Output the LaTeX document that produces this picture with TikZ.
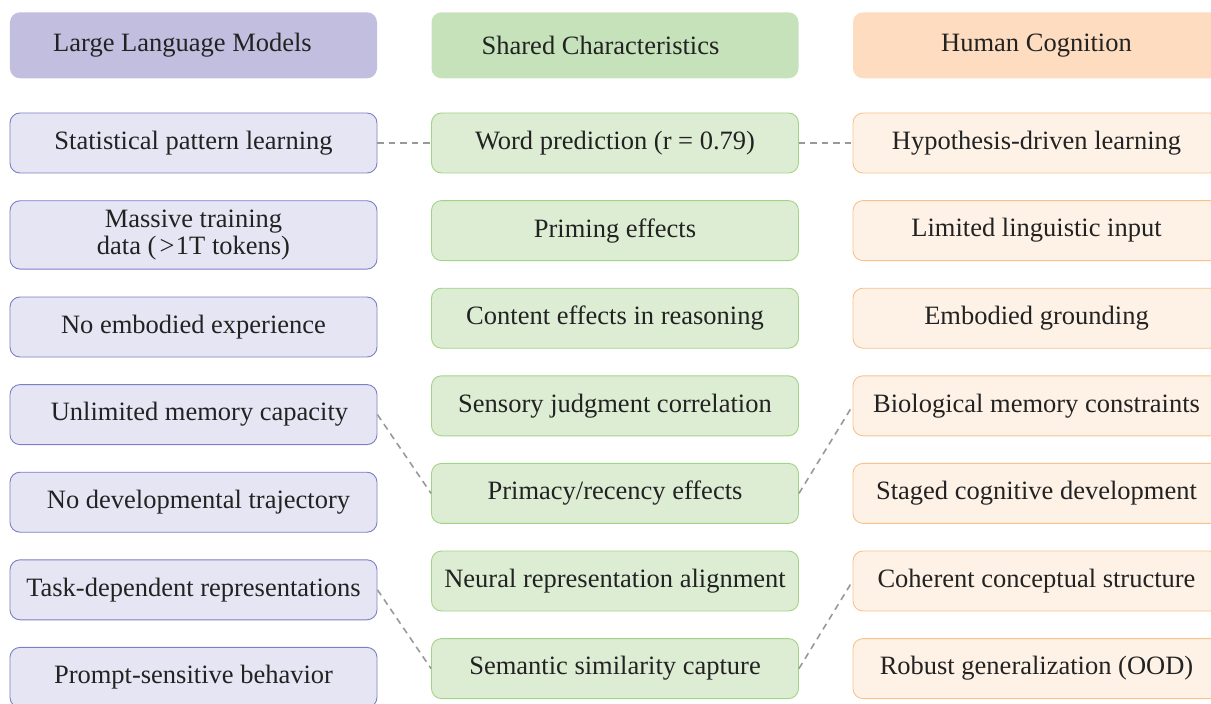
\documentclass[tikz,border=0pt]{standalone}
\usepackage{fontspec}
\setmainfont{Liberation Serif}
\definecolor{llmhead}{HTML}{C1BEDF}
\definecolor{llmfill}{HTML}{E6E5F3}
\definecolor{llmdraw}{HTML}{7B7FC6}
\definecolor{shhead}{HTML}{C6E2BB}
\definecolor{shfill}{HTML}{DDEDD4}
\definecolor{shdraw}{HTML}{A2D486}
\definecolor{huhead}{HTML}{FDDCBF}
\definecolor{hufill}{HTML}{FEF2E6}
\definecolor{hudraw}{HTML}{F9C28C}
\definecolor{txt}{HTML}{222222}
\definecolor{link}{HTML}{999999}
\begin{document}
\begin{tikzpicture}[x=1bp,y=-1bp,
  base/.style={rectangle, rounded corners=10bp, minimum width=367bp, minimum height=60bp,
    inner sep=0pt, align=center, text=txt, font=\fontsize{26.6}{26.7}\selectfont},
  headbox/.style={base, minimum height=66bp},
  llmh/.style={headbox, fill=llmhead},
  shh/.style={headbox, fill=shhead},
  huh/.style={headbox, fill=huhead},
  llmi/.style={base, fill=llmfill, draw=llmdraw, line width=0.9bp},
  shi/.style={base, fill=shfill, draw=shdraw, line width=0.9bp},
  hui/.style={base, fill=hufill, draw=hudraw, line width=0.9bp},
  linkline/.style={draw=link, line width=1.6bp, dash pattern=on 6.5bp off 5bp}]
\useasboundingbox (0,0) rectangle (1211,704);
\clip (0,0) rectangle (1211,704);
% headers
\node[llmh] (h1) at (193.5,45.3) {\hspace*{-22bp}Large Language Models};
\node[shh]  (h2) at (615,45.3) {\hspace*{-29bp}\raisebox{-1.7bp}{Shared Characteristics}};
\node[huh]  (h3) at (1036.5,45.3) {Human Cognition};
% column 1
\node[llmi] (l1) at (193.5,143) {Statistical pattern learning};
\node[llmi, minimum height=68.3bp] (l2) at (193.5,234.9) {Massive training\\[-0.2bp]data (\kern3bp>\kern1.5bp1T tokens)};
\node[llmi] (l3) at (193.5,327) {No embodied experience};
\node[llmi] (l4) at (193.5,414.6) {\hspace*{12bp}Unlimited memory capacity};
\node[llmi] (l5) at (193.5,502.2) {\hspace*{10bp}No developmental trajectory};
\node[llmi] (l6) at (193.5,589.8) {Task-dependent representations};
\node[llmi] (l7) at (193.5,677.4) {Prompt-sensitive behavior};
% column 2
\node[shi] (s1) at (615,143) {Word prediction (r = 0.79)};
\node[shi] (s2) at (615,230.6) {Priming effects};
\node[shi] (s3) at (615,318.2) {Content effects in reasoning};
\node[shi] (s4) at (615,405.8) {Sensory judgment correlation};
\node[shi] (s5) at (615,493.4) {Primacy/recency effects};
\node[shi] (s6) at (615,581) {Neural representation alignment};
\node[shi] (s7) at (615,668.6) {Semantic similarity capture};
% column 3
\node[hui] (c1) at (1036.5,143) {Hypothesis-driven learning};
\node[hui] (c2) at (1036.5,230.6) {Limited linguistic input};
\node[hui] (c3) at (1036.5,318.2) {Embodied grounding};
\node[hui] (c4) at (1036.5,405.8) {Biological memory constraints};
\node[hui] (c5) at (1036.5,493.4) {Staged cognitive development};
\node[hui] (c6) at (1036.5,581) {Coherent conceptual structure};
\node[hui] (c7) at (1036.5,668.6) {Robust generalization (OOD)};
% links
\draw[linkline] (l1.east) -- (s1.west);
\draw[linkline] (s1.east) -- (c1.west);
\draw[linkline] (l4.east) -- (s5.west);
\draw[linkline] (s5.east) -- (c4.west);
\draw[linkline] (l6.east) -- (s7.west);
\draw[linkline] (s7.east) -- (c6.west);
\end{tikzpicture}
\end{document}
